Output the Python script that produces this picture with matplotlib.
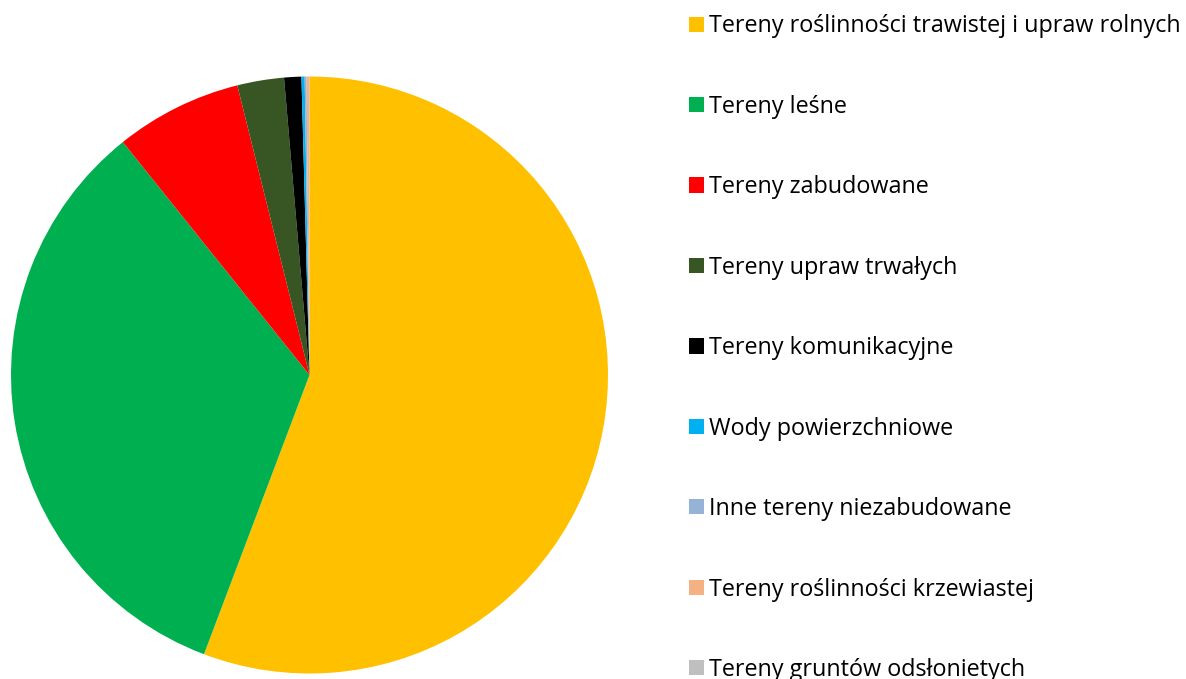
import matplotlib
matplotlib.use("Agg")
import matplotlib.pyplot as plt

# land use categories and their share (%)
labels = [
    "Tereny roślinności trawistej i upraw rolnych",
    "Tereny leśne",
    "Tereny zabudowane",
    "Tereny upraw trwałych",
    "Tereny komunikacyjne",
    "Wody powierzchniowe",
    "Inne tereny niezabudowane",
    "Tereny roślinności krzewiastej",
    "Tereny gruntów odsłonietych",
]
values = [55.75, 33.5, 6.86, 2.53, 0.93, 0.17, 0.10, 0.13, 0.03]
colors = ["#FFC000", "#00B050", "#FF0000", "#375623", "#000000",
          "#00B0F0", "#95B3D7", "#F4B183", "#BFBFBF"]

W, H = 1186, 679
fig = plt.figure(figsize=(W / 100, H / 100), dpi=100)

# pie centre / radius in pixels
cx, cy, r = 309.5, 375, 298.5
ax = fig.add_axes([(cx - r) / W, (H - cy - r) / H, 2 * r / W, 2 * r / H])
wedges, _ = ax.pie(values, colors=colors, startangle=90, counterclock=False,
                   radius=1, wedgeprops=dict(linewidth=0))
ax.set_xlim(-1, 1)
ax.set_ylim(-1, 1)
ax.set_aspect("equal")
ax.axis("off")

leg = fig.legend(wedges, labels, loc="upper left",
                 bbox_to_anchor=(680 / W, 1 - 5 / H),
                 frameon=False, prop=dict(family="Open Sans", size=16.8),
                 handlelength=0.62, handleheight=0.62, handletextpad=0.22,
                 labelspacing=2.42, borderaxespad=0)

fig.savefig("out.png", dpi=100)
